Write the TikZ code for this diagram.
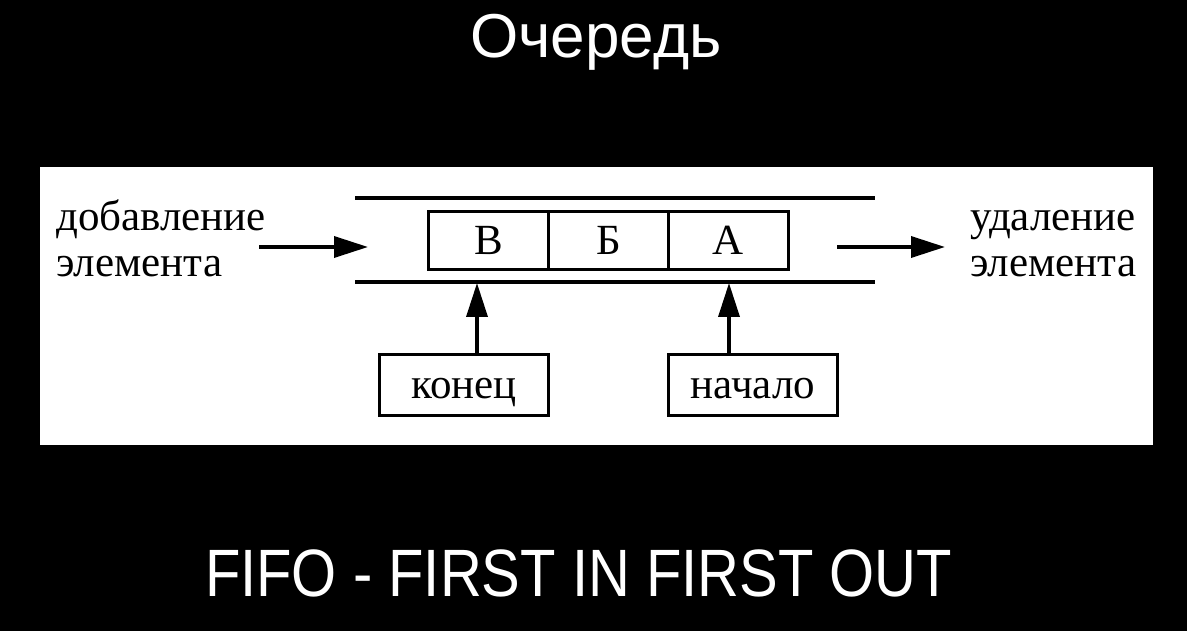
\documentclass[tikz,border=0pt]{standalone}
\usepackage{fontspec}
\setmainfont{Liberation Serif}
\newfontfamily\headfont{Liberation Sans}
\usepackage{graphicx}
\usetikzlibrary{arrows.meta,positioning}
\tikzset{
  >={Triangle[length=34pt,width=21pt]},
  cell/.style={draw=black,line width=3.5pt,outer sep=0pt,inner sep=0pt,minimum width=120pt,minimum height=58pt,font=\fontsize{43}{47}\selectfont},
  pbox/.style={draw=black,line width=3.5pt,inner sep=0pt,minimum width=169pt,minimum height=61pt,text height=26pt,text depth=0pt,font=\fontsize{43}{47}\selectfont},
  lab/.style={inner sep=0pt,align=left,font=\fontsize{43}{47}\selectfont},
  head/.style={inner sep=0pt,text=white},
  wall/.style={draw=black,line width=3.5pt},
  arr/.style={->,draw=black,line width=3.5pt},
}
\begin{document}
\begin{tikzpicture}[x=1pt,y=-1pt]
% background and panel
\fill[black] (0,0) rectangle (1187,631);
\useasboundingbox (0,0) rectangle (1187,631);
\fill[white] (40,167) rectangle (1153,445);
% headings
\node[head,anchor=base,font=\headfont\fontsize{62}{74}\selectfont] (title) at (596,58) {Очередь};
\node[head,anchor=base,font=\headfont\fontsize{67}{80}\selectfont] (fifo) at (578.5,596) {\scalebox{0.865}[1]{FIFO - FIRST IN FIRST OUT}};
% queue cells
\node[cell] (cellV) at (488.5,240.5) {В};
\node[cell,right=0pt of cellV] (cellB) {Б};
\node[cell,right=0pt of cellB] (cellA) {А};
\draw[wall] (355,198) -- (875,198);
\draw[wall] (355,282) -- (875,282);
% side labels
\node[lab,anchor=base west] (addL) at (56,277) {добавление\\элемента};
\node[lab,anchor=base west] (delL) at (970,277) {удаление\\элемента};
\coordinate (inA) at (259,247);
\coordinate (inB) at (368,247);
\coordinate (outA) at (837,247);
\coordinate (outB) at (945,247);
\draw[arr] (inA) -- (inB);
\draw[arr] (outA) -- (outB);
% pointers
\node[pbox] (konec) at (464,385) {конец};
\node[pbox] (nachalo) at (753,385) {начало};
\coordinate (tailEnd) at (477,283);
\coordinate (headEnd) at (729,283);
\draw[arr] (konec.north -| tailEnd) -- (tailEnd);
\draw[arr] (nachalo.north -| headEnd) -- (headEnd);
\end{tikzpicture}
\end{document}
